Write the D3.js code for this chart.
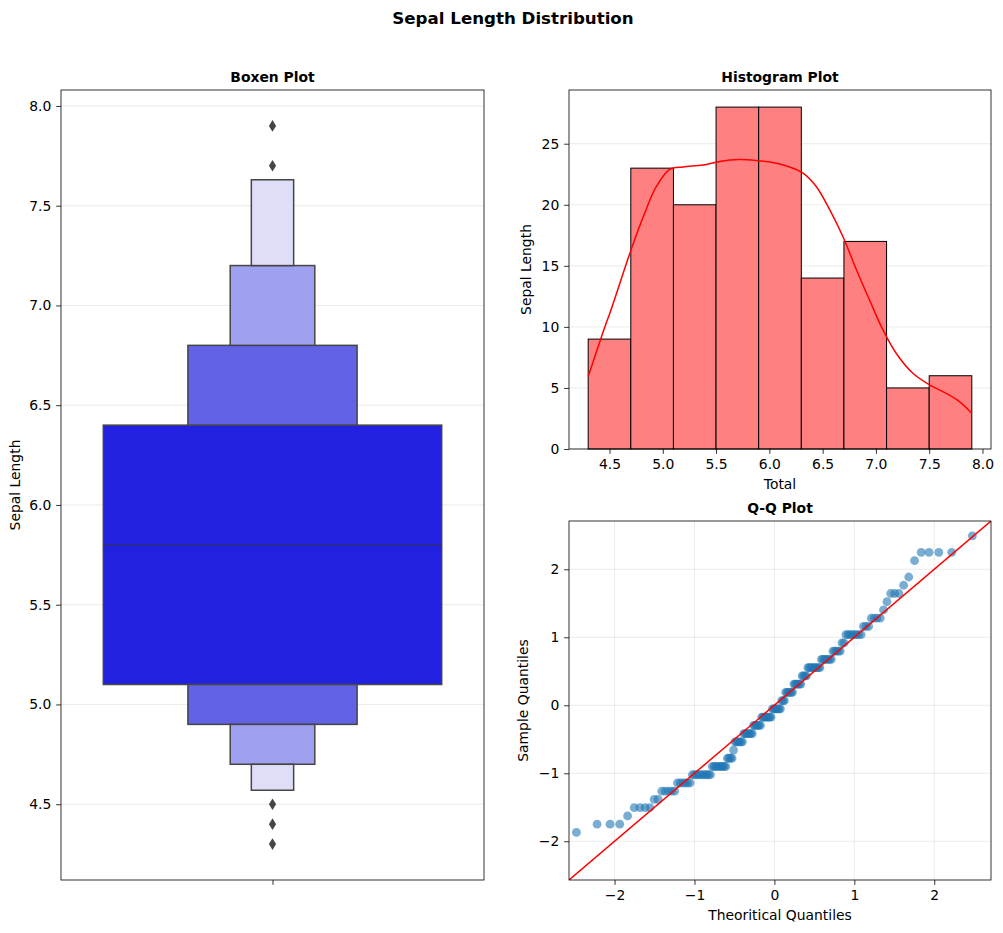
<!DOCTYPE html>
<html><head><meta charset="utf-8">
<script src="https://cdn.jsdelivr.net/npm/d3@7"></script>
<style>body{margin:0;background:#fff} text{font-family:"DejaVu Sans",sans-serif;fill:#000}</style>
</head><body><svg id="c" width="1003" height="933"></svg>
<script>
// ---------------- data ----------------
const sepalValues = [4.3,4.4,4.5,4.6,4.7,4.8,4.9,5.0,5.1,5.2,5.3,5.4,5.5,5.6,5.7,5.8,5.9,6.0,6.1,6.2,6.3,6.4,6.5,6.6,6.7,6.8,6.9,7.0,7.1,7.2,7.3,7.4,7.6,7.7,7.9];
const sepalCounts = [1,3,1,4,2,5,6,10,9,4,1,6,7,6,8,7,3,6,6,4,9,7,5,2,8,3,4,1,1,3,1,1,1,4,1];

const histBinEdges = [4.3,4.7,5.1,5.5,5.9,6.3,6.7,7.1,7.5,7.9];
const histCounts = [9,23,20,28,28,14,17,5,6];
const kdeX = [4.3,4.425,4.534,4.69,4.816,4.94,5.066,5.19,5.378,5.534,5.72,5.878,6.066,6.19,6.316,6.44,6.566,6.69,6.816,6.94,7.066,7.19,7.347,7.503,7.66,7.784,7.9];
const kdeY = [5.93,9.2,11.9,16.0,19.0,21.5,22.9,23.1,23.25,23.55,23.7,23.63,23.4,23.1,22.6,21.5,19.6,17.4,14.7,12.2,9.75,7.84,6.2,5.25,4.56,3.88,2.92];

const boxenLower = [5.1,4.9,4.7,4.57];
const boxenUpper = [6.4,6.8,7.2,7.63];
const boxenWidths = [0.8,0.4,0.2,0.1];
const boxenColors = ["#2121df","#6262e6","#a0a0f1","#dedef9"];
const boxenMedian = 5.8;
const boxenOutliers = [7.9,7.7,4.5,4.4,4.3];

const boxenTicks = [4.5,5.0,5.5,6.0,6.5,7.0,7.5,8.0];
const histXTicks = [4.5,5.0,5.5,6.0,6.5,7.0,7.5,8.0];
const histYTicks = [0,5,10,15,20,25];
const qqTicks = [-2,-1,0,1,2];

// ---------------- setup ----------------
const svg = d3.select("#c");
const FS = 13.9, TICK = 4.86, PAD = 4.86;
const gridColor = "#e6e6e6";
const fmt1 = d3.format(".1f");
const fmtMinus = d => (d < 0 ? "\u2212" + Math.abs(d) : String(d));

function styleAxis(g) {
  g.select(".domain").remove();
  g.selectAll(".tick line").attr("stroke", "#000").attr("stroke-width", 0.8);
  g.selectAll(".tick text").style("font-size", FS + "px").attr("fill", "#000");
}
function spines(x0, y0, x1, y1) {
  svg.append("rect").attr("x", x0).attr("y", y0).attr("width", x1 - x0).attr("height", y1 - y0)
    .attr("fill", "none").attr("stroke", "#000").attr("stroke-width", 0.8);
}
function title(t, x, y) {
  svg.append("text").attr("x", x).attr("y", y).attr("text-anchor", "middle")
    .style("font-size", FS + "px").style("font-weight", "bold").text(t);
}
function ylab(t, x, y) {
  svg.append("text").attr("transform", `translate(${x},${y}) rotate(-90)`).attr("text-anchor", "middle")
    .style("font-size", FS + "px").text(t);
}
function xlab(t, x, y) {
  svg.append("text").attr("x", x).attr("y", y).attr("text-anchor", "middle")
    .style("font-size", FS + "px").text(t);
}

// suptitle
svg.append("text").attr("x", 513).attr("y", 24).attr("text-anchor", "middle")
  .style("font-size", "16.67px").style("font-weight", "bold").text("Sepal Length Distribution");

// ---------------- Boxen plot ----------------
{
  const x0 = 61, x1 = 484, y0 = 90, y1 = 880;
  const x = d3.scaleLinear().domain([-0.5, 0.5]).range([x0, x1]);
  const y = d3.scaleLinear().domain([4.12, 8.08]).range([y1, y0]);
  // grid
  svg.append("g").selectAll("line").data(boxenTicks).join("line")
    .attr("x1", x0).attr("x2", x1).attr("y1", d => y(d)).attr("y2", d => y(d))
    .attr("stroke", gridColor).attr("stroke-width", 0.8);
  // boxes: innermost full box, outer levels only outside previous level
  const g = svg.append("g");
  const segs = [];
  boxenLower.forEach((lo, i) => {
    const w = boxenWidths[i];
    if (i === 0) segs.push({lo: lo, hi: boxenUpper[0], w: w, c: boxenColors[0]});
    else {
      segs.push({lo: lo, hi: boxenLower[i - 1], w: w, c: boxenColors[i]});
      segs.push({lo: boxenUpper[i - 1], hi: boxenUpper[i], w: w, c: boxenColors[i]});
    }
  });
  g.selectAll("rect").data(segs).join("rect")
    .attr("x", d => x(-d.w / 2)).attr("width", d => x(d.w / 2) - x(-d.w / 2))
    .attr("y", d => y(d.hi)).attr("height", d => y(d.lo) - y(d.hi))
    .attr("fill", d => d.c).attr("stroke", "#454545").attr("stroke-width", 1.5);
  // median
  g.append("line").attr("x1", x(-boxenWidths[0] / 2)).attr("x2", x(boxenWidths[0] / 2))
    .attr("y1", y(boxenMedian)).attr("y2", y(boxenMedian))
    .attr("stroke", "#2e2e78").attr("stroke-width", 1.5);
  // outliers (thin diamonds)
  g.selectAll("path.out").data(boxenOutliers).join("path")
    .attr("d", d => `M${x(0)},${y(d) - 5.8}L${x(0) + 3.6},${y(d)}L${x(0)},${y(d) + 5.8}L${x(0) - 3.6},${y(d)}Z`)
    .attr("fill", "#454545");
  const ay = svg.append("g").attr("transform", `translate(${x0},0)`)
    .call(d3.axisLeft(y).tickValues(boxenTicks).tickFormat(fmt1).tickSize(TICK).tickPadding(PAD));
  styleAxis(ay);
  const ax = svg.append("g").attr("transform", `translate(0,${y1})`)
    .call(d3.axisBottom(x).tickValues([0]).tickFormat("").tickSize(TICK));
  styleAxis(ax);
  spines(x0, y0, x1, y1);
  title("Boxen Plot", (x0 + x1) / 2, 82);
  ylab("Sepal Length", 20, (y0 + y1) / 2);
}

// ---------------- Histogram ----------------
{
  const x0 = 569, x1 = 991, y0 = 90, y1 = 449;
  const x = d3.scaleLinear().domain([4.12, 8.08]).range([x0, x1]);
  const y = d3.scaleLinear().domain([0, 29.4]).range([y1, y0]);
  svg.append("g").selectAll("line").data(histYTicks).join("line")
    .attr("x1", x0).attr("x2", x1).attr("y1", d => y(d)).attr("y2", d => y(d))
    .attr("stroke", gridColor).attr("stroke-width", 0.8);
  svg.append("g").selectAll("rect").data(histCounts).join("rect")
    .attr("x", (d, i) => x(histBinEdges[i]))
    .attr("width", (d, i) => x(histBinEdges[i + 1]) - x(histBinEdges[i]))
    .attr("y", d => y(d)).attr("height", d => y(0) - y(d))
    .attr("fill", "#ff8080").attr("stroke", "#000").attr("stroke-width", 1);
  const line = d3.line().x(d => x(d[0])).y(d => y(d[1])).curve(d3.curveCatmullRom);
  svg.append("path").attr("d", line(kdeX.map((v, i) => [v, kdeY[i]])))
    .attr("fill", "none").attr("stroke", "red").attr("stroke-width", 1.5);
  const ay = svg.append("g").attr("transform", `translate(${x0},0)`)
    .call(d3.axisLeft(y).tickValues(histYTicks).tickFormat(d3.format("d")).tickSize(TICK).tickPadding(PAD));
  styleAxis(ay);
  const ax = svg.append("g").attr("transform", `translate(0,${y1})`)
    .call(d3.axisBottom(x).tickValues(histXTicks).tickFormat(fmt1).tickSize(TICK).tickPadding(PAD));
  styleAxis(ax);
  spines(x0, y0, x1, y1);
  title("Histogram Plot", (x0 + x1) / 2, 82);
  ylab("Sepal Length", 531, (y0 + y1) / 2);
  xlab("Total", (x0 + x1) / 2, 489);
}

// ---------------- Q-Q plot ----------------
{
  const x0 = 569, x1 = 991, y0 = 521, y1 = 880;
  const x = d3.scaleLinear().domain([-2.57, 2.71]).range([x0, x1]);
  const y = d3.scaleLinear().domain([-2.57, 2.71]).range([y1, y0]);
  // inverse normal CDF (Acklam)
  function ppf(p) {
    const a = [-3.969683028665376e+01, 2.209460984245205e+02, -2.759285104469687e+02, 1.383577518672690e+02, -3.066479806614716e+01, 2.506628277459239e+00];
    const b = [-5.447609879822406e+01, 1.615858368580409e+02, -1.556989798598866e+02, 6.680131188771972e+01, -1.328068155288572e+01];
    const c = [-7.784894002430293e-03, -3.223964580411365e-01, -2.400758277161838e+00, -2.549671134605416e+00, 4.374664141464968e+00, 2.938163982698783e+00];
    const d = [7.784695709041462e-03, 3.224671290700398e-01, 2.445134137142996e+00, 3.754408661907416e+00];
    const pl = 0.02425;
    let q, r;
    if (p < pl) {
      q = Math.sqrt(-2 * Math.log(p));
      return (((((c[0]*q+c[1])*q+c[2])*q+c[3])*q+c[4])*q+c[5]) / ((((d[0]*q+d[1])*q+d[2])*q+d[3])*q+1);
    } else if (p <= 1 - pl) {
      q = p - 0.5; r = q * q;
      return (((((a[0]*r+a[1])*r+a[2])*r+a[3])*r+a[4])*r+a[5])*q / (((((b[0]*r+b[1])*r+b[2])*r+b[3])*r+b[4])*r+1);
    } else {
      q = Math.sqrt(-2 * Math.log(1 - p));
      return -(((((c[0]*q+c[1])*q+c[2])*q+c[3])*q+c[4])*q+c[5]) / ((((d[0]*q+d[1])*q+d[2])*q+d[3])*q+1);
    }
  }
  const sorted = [];
  sepalValues.forEach((v, i) => { for (let k = 0; k < sepalCounts[i]; k++) sorted.push(v); });
  const n = sorted.length;
  const mean = d3.mean(sorted);
  const sd = Math.sqrt(d3.mean(sorted, v => (v - mean) ** 2));
  const pts = sorted.map((v, i) => [ppf((i + 1) / (n + 1)), (v - mean) / sd]);

  const gg = svg.append("g");
  gg.selectAll("line.v").data(qqTicks).join("line")
    .attr("x1", d => x(d)).attr("x2", d => x(d)).attr("y1", y0).attr("y2", y1)
    .attr("stroke", gridColor).attr("stroke-width", 0.8);
  gg.selectAll("line.h").data(qqTicks).join("line").attr("class", "h")
    .attr("x1", x0).attr("x2", x1).attr("y1", d => y(d)).attr("y2", d => y(d))
    .attr("stroke", gridColor).attr("stroke-width", 0.8);

  svg.append("defs").append("clipPath").attr("id", "qqclip").append("rect")
    .attr("x", x0).attr("y", y0).attr("width", x1 - x0).attr("height", y1 - y0);
  const pg = svg.append("g").attr("clip-path", "url(#qqclip)");
  pg.selectAll("circle").data(pts).join("circle")
    .attr("cx", d => x(d[0])).attr("cy", d => y(d[1])).attr("r", 4.4)
    .attr("fill", "#1f77b4").attr("fill-opacity", 0.6);
  pg.append("line").attr("x1", x(-3)).attr("y1", y(-3)).attr("x2", x(3)).attr("y2", y(3))
    .attr("stroke", "red").attr("stroke-width", 1.5);

  const ay = svg.append("g").attr("transform", `translate(${x0},0)`)
    .call(d3.axisLeft(y).tickValues(qqTicks).tickFormat(fmtMinus).tickSize(TICK).tickPadding(PAD));
  styleAxis(ay);
  const ax = svg.append("g").attr("transform", `translate(0,${y1})`)
    .call(d3.axisBottom(x).tickValues(qqTicks).tickFormat(fmtMinus).tickSize(TICK).tickPadding(PAD));
  styleAxis(ax);
  spines(x0, y0, x1, y1);
  title("Q-Q Plot", (x0 + x1) / 2, 513);
  ylab("Sample Quantiles", 528, (y0 + y1) / 2);
  xlab("Theoritical Quantiles", (x0 + x1) / 2, 920);
}
</script></body></html>
